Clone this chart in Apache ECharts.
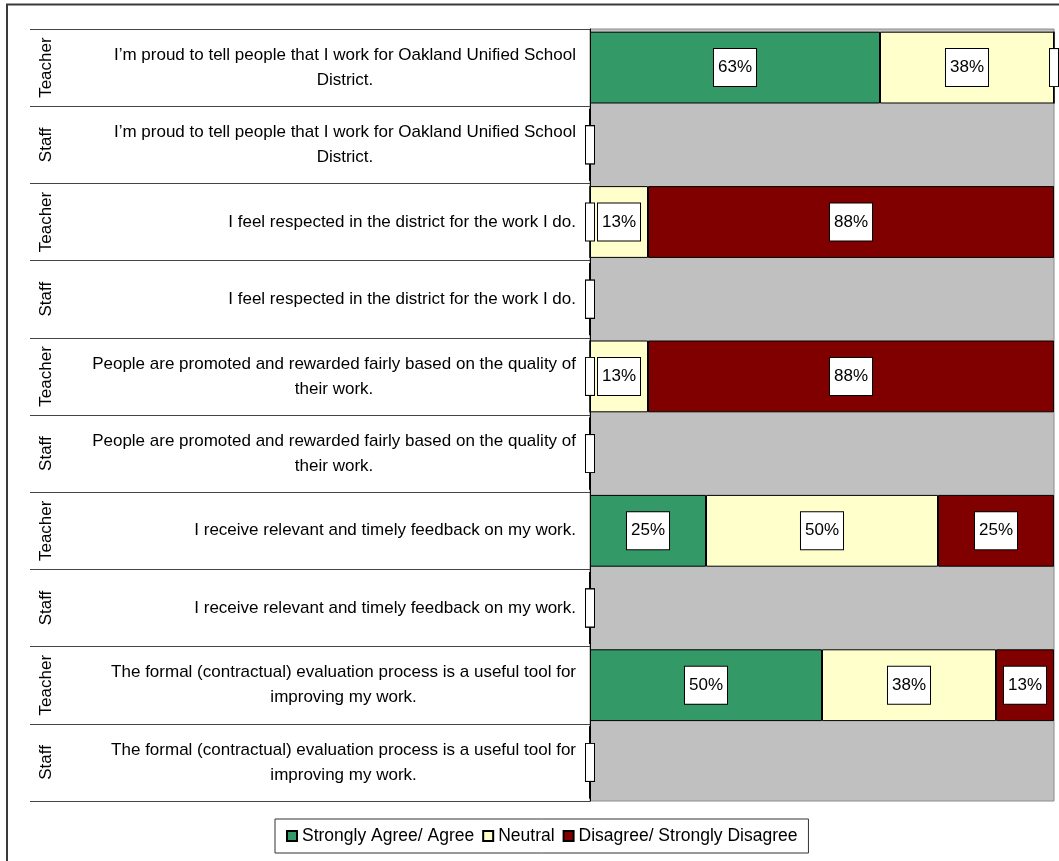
<!DOCTYPE html>
<html>
<head>
<meta charset="utf-8">
<title>Survey</title>
<script src="https://cdn.jsdelivr.net/npm/echarts@6/dist/echarts.min.js"></script>
<style>
  html, body { margin: 0; padding: 0; background: #fff; }
  #main { width: 1059px; height: 861px; }
</style>
</head>
<body>
<div id="main"></div>
<script>
// data
var groups = ['Teacher', 'Staff'];
var questions = [
    'I\u2019m proud to tell people that I work for Oakland Unified School\nDistrict.',
    'I feel respected in the district for the work I do.',
    'People are promoted and rewarded fairly based on the quality of\ntheir work.',
    'I receive relevant and timely feedback on my work.',
    'The formal (contractual) evaluation process is a useful tool for\nimproving my work.'
];
var seriesNames = ['Strongly Agree/ Agree', 'Neutral', 'Disagree/ Strongly Disagree'];
// rows: Teacher, Staff for each question (percent)
var agree    = [62.5, 0, 0,    0, 0,    0, 25, 0, 50,   0];
var neutral  = [37.5, 0, 12.5, 0, 12.5, 0, 50, 0, 37.5, 0];
var disagree = [0,    0, 87.5, 0, 87.5, 0, 25, 0, 12.5, 0];
var colors = ['#339966', '#FFFFCC', '#800000'];

var font = "'Liberation Sans', Arial, sans-serif";

var rowQuestions = [];
var rowGroups = [];
questions.forEach(function (q) {
    groups.forEach(function (g) {
        rowQuestions.push(q);
        rowGroups.push(g);
    });
});

var myChart = echarts.init(document.getElementById('main'));

function makeSeries(name, data, color) {
    return {
        name: name,
        type: 'bar',
        stack: 'all',
        barCategoryGap: '7%',
        data: data,
        itemStyle: { color: color, borderColor: '#000', borderWidth: 1 },
        label: {
            show: true,
            position: 'inside',
            // empty box for zero values, like the original
            formatter: function (p) { return p.value > 0 ? Math.round(p.value) + '%' : '\u200b'; },
            color: '#000',
            fontFamily: font,
            fontSize: 17,
            lineHeight: 17,
            backgroundColor: '#fff',
            borderColor: '#000',
            borderWidth: 1,
            padding: [10, 4]
        },
        emphasis: { disabled: true }
    };
}

var option = {
    animation: false,
    textStyle: { fontFamily: font },
    graphic: [{
        type: 'rect',
        shape: { x: 7, y: 4.5, width: 1200, height: 1000 },
        style: { fill: 'none', stroke: '#3a3a3a', lineWidth: 2 },
        silent: true
    }],
    grid: {
        left: 590, right: 5, top: 29, bottom: 60,
        containLabel: false,
        outerBoundsMode: 'none',
        show: true,
        backgroundColor: '#C0C0C0',
        borderColor: '#8c8c8c',
        borderWidth: 1
    },
    legend: {
        left: 275,
        top: 819,
        orient: 'horizontal',
        itemWidth: 10,
        itemHeight: 10,
        itemGap: 8,
        padding: [8, 11],
        borderColor: '#333',
        borderWidth: 1,
        backgroundColor: '#fff',
        icon: 'rect',
        textStyle: { color: '#000', fontSize: 17.5, fontFamily: font },
        data: seriesNames
    },
    xAxis: {
        type: 'value',
        min: 0,
        max: 100,
        show: false
    },
    yAxis: [{
        type: 'category',
        inverse: true,
        data: rowQuestions,
        axisLine: { show: true, lineStyle: { color: '#000', width: 1 } },
        axisTick: { show: true, length: 560, lineStyle: { color: '#444', width: 1 } },
        splitLine: { show: false },
        axisLabel: {
            interval: 0,
            margin: 14,
            align: 'right',
            formatter: function (v) {
                return v.split('\n').map(function (l) { return '{q|' + l + '}'; }).join('\n');
            },
            rich: {
                q: { align: 'center', fontSize: 17, lineHeight: 25, color: '#000', fontFamily: font }
            }
        }
    }, {
        type: 'category',
        inverse: true,
        position: 'left',
        data: rowGroups,
        axisLine: { show: false },
        axisTick: { show: false },
        splitLine: { show: false },
        axisLabel: {
            interval: 0,
            rotate: 90,
            margin: 535,
            color: '#000',
            fontSize: 17,
            fontFamily: font
        }
    }],
    series: [
        makeSeries(seriesNames[0], agree, colors[0]),
        makeSeries(seriesNames[1], neutral, colors[1]),
        makeSeries(seriesNames[2], disagree, colors[2])
    ]
};

myChart.setOption(option);
window.onresize = myChart.resize;
</script>
</body>
</html>
